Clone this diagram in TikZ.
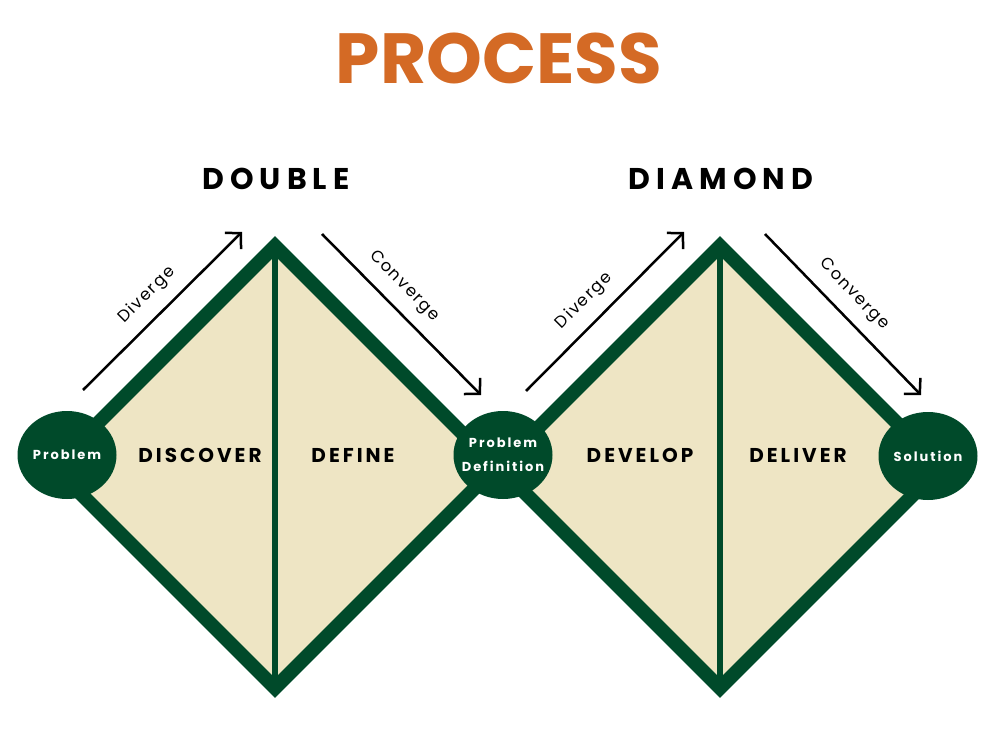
\documentclass[tikz,border=0pt]{standalone}
\usepackage{fontspec}
\setmainfont{Poppins}
\newfontfamily\spacedfont{Poppins}[LetterSpace=15]
\newfontfamily\headingfont{Poppins}[LetterSpace=20]
\newfontfamily\arrowfont{Poppins}[LetterSpace=10]
\usetikzlibrary{arrows.meta,positioning,shapes.geometric}
\definecolor{DiamondGreen}{RGB}{0,74,42}
\definecolor{DiamondFill}{RGB}{238,229,196}
\definecolor{TitleOrange}{RGB}{212,106,37}

\begin{document}
\begin{tikzpicture}[x=1pt,y=-1pt,
    diamondedge/.style={draw=DiamondGreen,fill=DiamondFill,line width=14pt,line join=miter,miter limit=10},
    splitline/.style={draw=DiamondGreen,line width=6pt},
    endpoint/.style={ellipse,fill=DiamondGreen,text=white,minimum width=99pt,minimum height=88pt,inner sep=-8pt,align=center,font=\spacedfont\bfseries\fontsize{13}{24}\selectfont},
    stage/.style={font=\spacedfont\bfseries\fontsize{20}{24}\selectfont},
    heading/.style={font=\headingfont\bfseries\fontsize{30}{34}\selectfont,text=black},
    flow/.style={line width=2.5pt,-{Straight Barb[length=11pt,width=23pt,line width=2.5pt]}},
    flowlabel/.style={sloped,above=9pt,font=\arrowfont\fontsize{16.5}{20}\selectfont}]
  \useasboundingbox (0,0) rectangle (997,730);
  \filldraw[diamondedge] (275,246) coordinate (T1) -- (496,467) coordinate (R1) -- (275,688) coordinate (B1) -- (54,467) coordinate (L1) -- cycle;
  \filldraw[diamondedge] (720,246) coordinate (T2) -- (941,467) coordinate (R2) -- (720,688) coordinate (B2) -- (499,467) coordinate (L2) -- cycle;
  \draw[splitline] (T1) -- (B1);
  \draw[splitline] (T2) -- (B2);
  \node (title) at (499,58) {\fontsize{71}{80}\selectfont\bfseries\color{TitleOrange}PROCESS};
  \node[heading] (double) at (276,179) {DOUBLE};
  \node[heading] (diamond) at (721,179) {DIAMOND};
  \node[stage] (discover) at (200,455) {DISCOVER};
  \node[stage] (define) at (353,455) {DEFINE};
  \node[stage] (develop) at (640,455) {DEVELOP};
  \node[stage] (deliver) at (798,455) {DELIVER};
  \node[endpoint] (problem) at (67,455) {Problem};
  \node[endpoint] (probdef) at (503,455) {Problem\\Definition};
  \node[endpoint] (solution) at (928,456) {Solution};
  \coordinate (dv1s) at (83,390);
  \coordinate (dv1e) at (242,232);
  \coordinate (cv1s) at (322,234);
  \coordinate (cv1e) at (481,395);
  \coordinate (dv2s) at (526,391);
  \coordinate (dv2e) at (684,232);
  \coordinate (cv2s) at (765,234);
  \coordinate (cv2e) at (921,395);
  \draw[flow] (dv1s) -- (dv1e) node[flowlabel,pos=0.5] {Diverge};
  \draw[flow] (cv1s) -- (cv1e) node[flowlabel,pos=0.42] {Converge};
  \draw[flow] (dv2s) -- (dv2e) node[flowlabel,pos=0.47] {Diverge};
  \draw[flow] (cv2s) -- (cv2e) node[flowlabel,pos=0.47] {Converge};
\end{tikzpicture}
\end{document}
